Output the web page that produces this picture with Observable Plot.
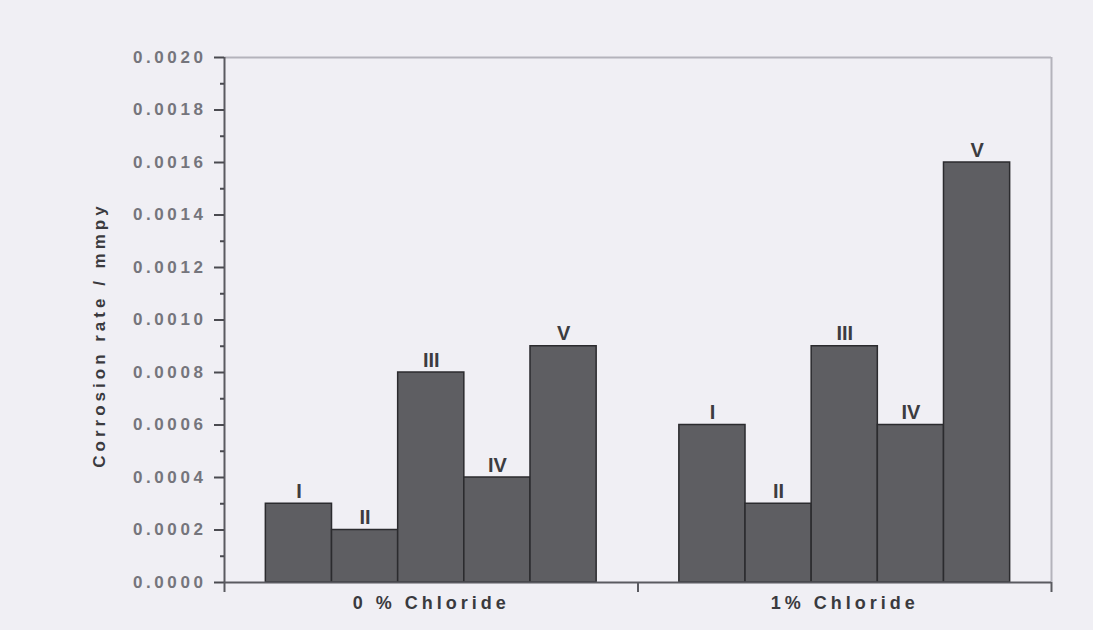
<!DOCTYPE html>
<html>
<head>
<meta charset="utf-8">
<script src="https://cdn.jsdelivr.net/npm/d3@7"></script>
<script src="https://cdn.jsdelivr.net/npm/@observablehq/plot@0.6"></script>
<style>
  html, body { margin: 0; padding: 0; background: #f0eff4; }
  #chart svg { display: block; background: #f0eff4; }
  #chart g[aria-label="y-axis tick label"] text { fill: #75757c; font-weight: bold; letter-spacing: 3.6px; font-family: Arial, "Liberation Sans", sans-serif; font-size: 17px; }
  #chart g[aria-label="x-axis tick label"] text { fill: #3a3a3e; font-weight: bold; letter-spacing: 4px; font-family: Arial, "Liberation Sans", sans-serif; font-size: 18px; }
</style>
</head>
<body>
<div id="chart"></div>
<script>
const groups = ["0 % Chloride", "1% Chloride"];
const samples = ["I", "II", "III", "IV", "V"];
const chloride0 = [0.0003, 0.0002, 0.0008, 0.0004, 0.0009];
const chloride1 = [0.0006, 0.0003, 0.0009, 0.0006, 0.0016];
const yMajorTicks = [0, 0.0002, 0.0004, 0.0006, 0.0008, 0.0010, 0.0012, 0.0014, 0.0016, 0.0018, 0.0020];
const yMinorTicks = [0.0001, 0.0003, 0.0005, 0.0007, 0.0009, 0.0011, 0.0013, 0.0015, 0.0017, 0.0019];
const yLabel = "Corrosion rate / mmpy";

const seriesValues = [chloride0, chloride1];
const rows = [];
groups.forEach((g, gi) => {
  samples.forEach((s, si) => {
    rows.push({group: g, gi, sample: s, si, value: seriesValues[gi][si]});
  });
});

// layout inside each group: bars occupy the central 80% of the group slot
const pad = 0.1, barW = 0.16;
const x1 = d => d.gi + pad + d.si * barW;
const x2 = d => d.gi + pad + (d.si + 1) * barW;
const xc = d => d.gi + pad + (d.si + 0.5) * barW;

const plot = Plot.plot({
  width: 1093,
  height: 630,
  marginLeft: 224,
  marginRight: 42,
  marginTop: 57,
  marginBottom: 48,
  style: {background: "#f0eff4", fontFamily: "Arial, 'Liberation Sans', sans-serif"},
  x: {domain: [0, 2]},
  y: {domain: [0, 0.002]},
  marks: [
    Plot.rectY(rows, {x1, x2, y1: 0, y2: "value", fill: "#5e5e62", stroke: "#2b2b2e", strokeWidth: 1.5}),
    Plot.text(rows, {x: xc, y: "value", text: "sample", lineAnchor: "bottom", dy: -6,
      fontSize: 20, fontWeight: "bold", fill: "#3c3c40", fontFamily: "Arial, 'Liberation Sans', sans-serif"}),
    Plot.ruleY([0.002], {stroke: "#b4b3bb", strokeWidth: 2}),
    Plot.ruleX([2], {stroke: "#b4b3bb", strokeWidth: 2}),
    Plot.ruleX([0], {stroke: "#5a5a60", strokeWidth: 2}),
    Plot.ruleY([0], {stroke: "#5a5a60", strokeWidth: 2}),
    Plot.axisY({ticks: yMajorTicks, tickSize: 10, tickPadding: 8, tickFormat: d3.format(".4f"),
      stroke: "#4a4a50", strokeWidth: 2, label: null}),
    Plot.axisY({ticks: yMinorTicks, tickSize: 4, tickFormat: () => "", stroke: "#4a4a50", strokeWidth: 2, label: null}),
    Plot.axisX({ticks: [0, 1, 2], tickSize: 10, tickFormat: () => "", stroke: "#5a5a60", strokeWidth: 2, label: null}),
    Plot.axisX({ticks: groups.map((g, i) => i + 0.5), tickSize: 0, tickPadding: 14,
      tickFormat: d => groups[Math.floor(d)], label: null}),
    Plot.text([yLabel], {text: d => d, frameAnchor: "left", rotate: -90, dx: -125, dy: 15,
      fontSize: 17, fontWeight: "bold", fill: "#3a3a3e", fontFamily: "Arial, 'Liberation Sans', sans-serif",
      lineAnchor: "middle", textAnchor: "middle"})
  ]
});
document.getElementById("chart").appendChild(plot);
// letter spacing for the rotated axis title
d3.select(plot).selectAll("text").filter(function() { return this.textContent === yLabel; })
  .style("letter-spacing", "4px");
</script>
</body>
</html>
